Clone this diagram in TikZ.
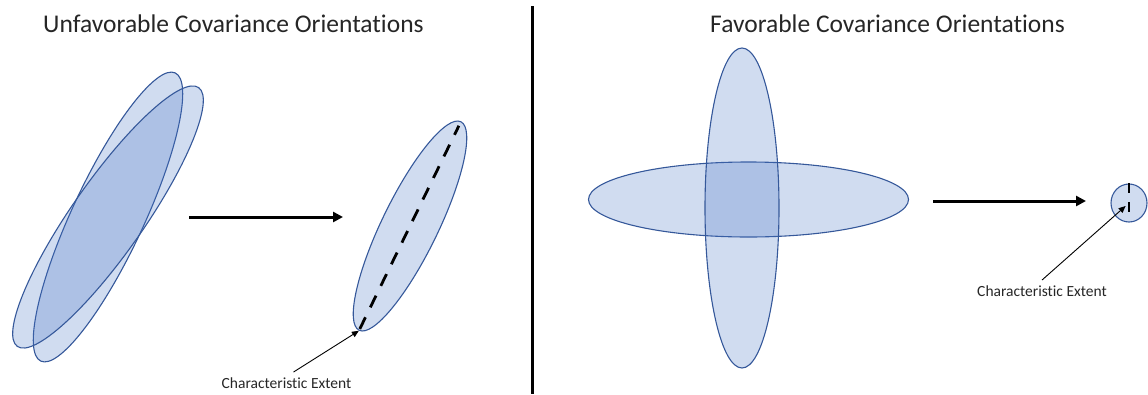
\documentclass[tikz,border=0pt]{standalone}
\usepackage{fontspec}
\setmainfont{Carlito}[Ligatures={NoCommon}]
\usepackage{tikz}
\usepackage{xcolor}
\usetikzlibrary{shapes.geometric,arrows.meta}
\definecolor{covfill}{HTML}{4472C4}
\definecolor{covline}{HTML}{35589A}

\begin{document}
\begin{tikzpicture}[
    x=1pt, y=1pt,
    covariance/.style={
        ellipse,
        draw=covline,
        line width=1.1pt,
        fill=covfill,
        fill opacity=0.25,
        inner sep=0pt
    },
    heading/.style={
        anchor=base west,
        inner sep=0pt,
        text=black!85,
        font=\fontsize{25.5}{30}\selectfont
    },
    note/.style={
        anchor=base,
        inner sep=5pt,
        text=black!85,
        font=\fontsize{15.5}{18}\selectfont
    },
    mapto/.style={line width=3pt, -{Triangle[length=10pt,width=10pt]}},
    leader/.style={line width=0.9pt, -{Triangle[length=7pt,width=6pt]}},
    extent/.style={line width=2.8pt, dash pattern=on 13pt off 11pt}
]
    \useasboundingbox (0,0) rectangle (1148,-394);

    \node[heading] (lefttitle) at (43,-32) {Unfavorable Covariance Orientations};
    \node[heading] (righttitle) at (710,-32) {Favorable Covariance Orientations};

    \coordinate (divtop) at (532.5,-6);
    \coordinate (divbot) at (532.5,-394);
    \draw[line width=3pt] (divtop) -- (divbot);

    \node[covariance, minimum width=318pt, minimum height=72pt, rotate=65]
        (steep) at (108,-217) {};
    \node[covariance, minimum width=316pt, minimum height=72pt, rotate=55]
        (shallow) at (108,-217) {};
    \node[covariance, minimum width=232pt, minimum height=56pt, rotate=64]
        (result) at (410,-226) {};

    \node[covariance, minimum width=320pt, minimum height=75pt]
        (wide) at (748.5,-199.5) {};
    \node[covariance, minimum width=74pt, minimum height=320pt]
        (tall) at (742,-208) {};
    \node[covariance, minimum width=36pt, minimum height=38pt]
        (point) at (1129,-203) {};

    \coordinate (lefttail) at (189,-217);
    \coordinate (lefthead) at (343,-217);
    \coordinate (righttail) at (933,-201);
    \coordinate (righthead) at (1086,-201);
    \draw[mapto] (lefttail) -- (lefthead);
    \draw[mapto] (righttail) -- (righthead);

    \draw[extent, shorten <=2pt, shorten >=5pt] (result.west) -- (result.east);
    \draw[extent, line width=2.5pt, dash pattern=on 10pt off 9pt, shorten >=3pt]
        (point.north) -- (point.south);

    \node[note] (leftnote) at (286.5,-388) {Characteristic Extent};
    \node[note] (rightnote) at (1042,-296) {Characteristic Extent};

    \draw[leader] ([xshift=7pt]leftnote.north) -- (result.west);
    \draw[leader, shorten >=4.5pt] (rightnote.north) -- (point.center);
\end{tikzpicture}
\end{document}
